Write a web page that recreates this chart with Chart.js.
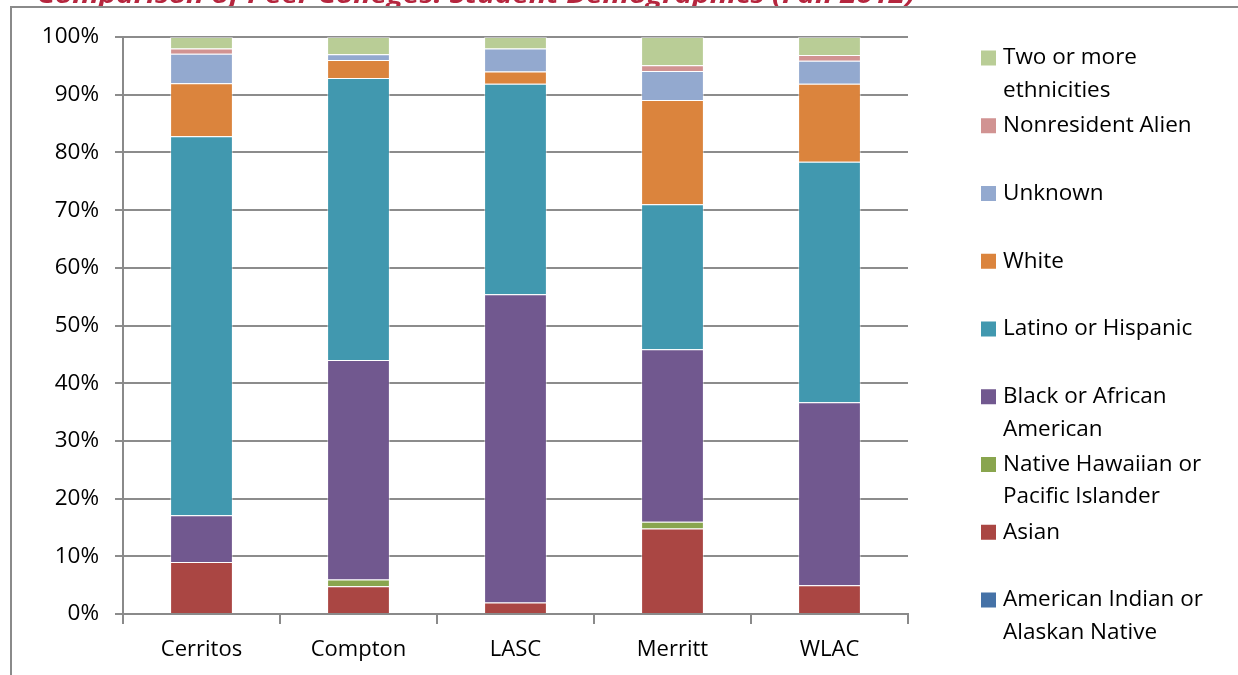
<!DOCTYPE html>
<html>
<head>
<meta charset="utf-8">
<script src="https://cdn.jsdelivr.net/npm/chart.js@4/dist/chart.umd.min.js"></script>
<style>
  body { margin: 0; background: #fff; }
  #wrap { width: 1238px; height: 675px; }
</style>
</head>
<body>
<div id="wrap"><canvas id="demoChart" width="1238" height="675"></canvas></div>
<script>
// --- data (percent of enrollment) ---
const categories = ['Cerritos', 'Compton', 'LASC', 'Merritt', 'WLAC'];
const amIndian = [0, 0, 0, 0, 0];
const asian    = [9.0, 4.8, 2.0, 14.8, 5.0];
const pacific  = [0, 1.2, 0, 1.2, 0];
const black    = [8.1, 38.0, 53.4, 29.9, 31.7];
const latino   = [65.7, 48.9, 36.5, 25.1, 41.7];
const white    = [9.2, 3.1, 2.1, 18.1, 13.5];
const unknown  = [5.1, 1.0, 4.0, 5.0, 4.0];
const nonres   = [0.9, 0, 0, 1.0, 1.0];
const twoPlus  = [2.0, 3.0, 2.0, 4.9, 3.1];
const yTicks = [0, 10, 20, 30, 40, 50, 60, 70, 80, 90, 100];

const seriesNames = ['American Indian or Alaskan Native', 'Asian', 'Native Hawaiian or Pacific Islander',
  'Black or African American', 'Latino or Hispanic', 'White', 'Unknown', 'Nonresident Alien', 'Two or more ethnicities'];
// legend text as it wraps in the original
const legendLines = [
  ['American Indian or', 'Alaskan Native'], ['Asian'], ['Native Hawaiian or', 'Pacific Islander'],
  ['Black or African', 'American'], ['Latino or Hispanic'], ['White'], ['Unknown'],
  ['Nonresident Alien'], ['Two or more', 'ethnicities']
];
const seriesColors = ['#4572A7', '#AA4643', '#89A54E', '#71588F', '#4198AF', '#DB843D', '#93A9CF', '#D19392', '#B9CD96'];
const titleText = 'Comparison of Peer Colleges: Student Demographics (Fall 2012)';

const FONT = '"Open Sans", "Liberation Sans", sans-serif';

const frameAndTitle = {
  id: 'frameAndTitle',
  beforeDraw(chart) {
    const ctx = chart.ctx;
    ctx.save();
    ctx.fillStyle = '#fff';
    ctx.fillRect(0, 0, chart.width, chart.height);
    // cropped title, only its lower edge shows
    ctx.font = 'italic bold 24px ' + FONT;
    const w = ctx.measureText(titleText).width;
    ctx.translate(37, 2.5);
    ctx.scale(878 / w, 1);
    ctx.fillStyle = '#b5263e';
    ctx.textBaseline = 'alphabetic';
    ctx.fillText(titleText, 0, 0);
    ctx.restore();
    ctx.save();
    ctx.fillStyle = '#fff';
    ctx.fillRect(0, 8, chart.width, 1);
    ctx.strokeStyle = '#8a8a8a';
    ctx.lineWidth = 2;
    ctx.beginPath();
    ctx.moveTo(11, 676);
    ctx.lineTo(11, 7);
    ctx.lineTo(1240, 7);
    ctx.stroke();
    ctx.restore();
  }
};

const sideLegend = {
  id: 'sideLegend',
  afterDraw(chart) {
    const ctx = chart.ctx;
    ctx.save();
    ctx.font = '22.5px ' + FONT;
    ctx.fillStyle = '#000';
    ctx.textBaseline = 'middle';
    const n = chart.data.datasets.length;
    for (let i = 0; i < n; i++) {
      const idx = n - 1 - i;
      const y = 58 + i * 67.75;
      ctx.fillStyle = seriesColors[idx];
      ctx.fillRect(981, y - 7.5, 15, 15);
      ctx.fillStyle = '#000';
      legendLines[idx].forEach((line, k) => ctx.fillText(line, 1003, y + k * 32.5));
    }
    ctx.restore();
  }
};

const series = [amIndian, asian, pacific, black, latino, white, unknown, nonres, twoPlus];

new Chart(document.getElementById('demoChart'), {
  type: 'bar',
  data: {
    labels: categories,
    datasets: series.map((vals, i) => ({
      label: seriesNames[i],
      data: vals,
      backgroundColor: seriesColors[i],
      borderColor: 'rgba(255,255,255,0.45)',
      borderWidth: 1,
      barPercentage: 0.4,
      categoryPercentage: 1
    }))
  },
  options: {
    responsive: false,
    animation: false,
    layout: { padding: { top: 37, right: 330, left: 0, bottom: 0 } },
    plugins: { legend: { display: false }, tooltip: { enabled: false } },
    scales: {
      x: {
        stacked: true,
        afterFit: s => { s.height = 61; },
        grid: { drawOnChartArea: false, drawTicks: true, tickLength: 10, offset: true, color: '#8a8a8a', lineWidth: 2 },
        border: { color: '#8a8a8a', width: 2 },
        ticks: { color: '#000', font: { family: FONT, size: 22 }, padding: 13 }
      },
      y: {
        stacked: true,
        min: 0,
        max: 100,
        afterFit: s => { s.width = 123; },
        afterBuildTicks: s => { s.ticks = yTicks.map(v => ({ value: v })); },
        grid: { color: '#8c8c8c', lineWidth: 2, tickLength: 8 },
        border: { color: '#8a8a8a', width: 2 },
        ticks: { color: '#000', font: { family: FONT, size: 22.5 }, padding: 16, callback: v => v + '%' }
      }
    }
  },
  plugins: [frameAndTitle, sideLegend]
});
</script>
</body>
</html>
